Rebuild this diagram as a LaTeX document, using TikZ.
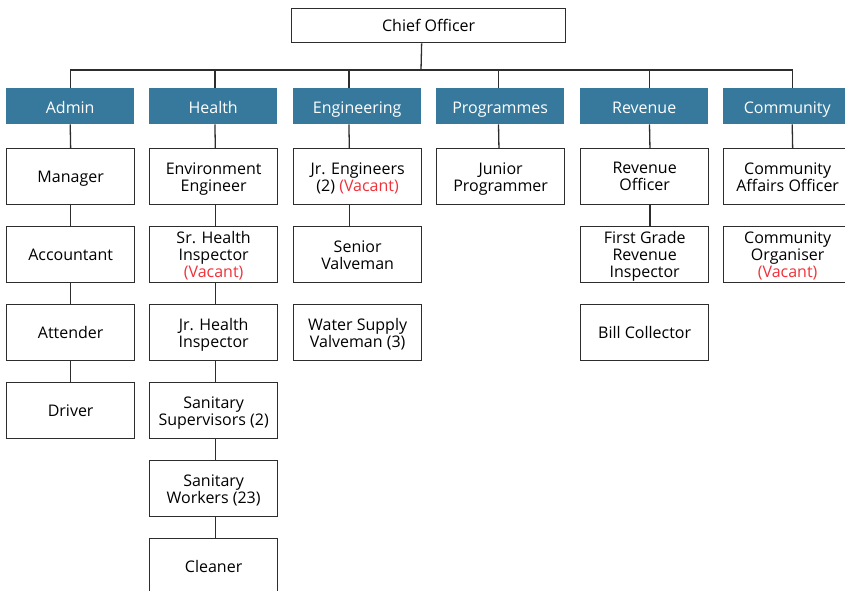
\documentclass[tikz,border=0pt]{standalone}
\usepackage{fontspec}
\setmainfont{Open Sans}
\definecolor{deptc}{RGB}{54,121,156}
\definecolor{vac}{RGB}{240,50,58}
\definecolor{edgec}{RGB}{45,45,45}
\newcommand{\vac}[1]{\textcolor{vac}{#1}}
\begin{document}
\begin{tikzpicture}[x=1pt,y=-1pt,
  box/.style={draw=edgec,line width=1.3pt,fill=white,minimum width=128pt,minimum height=56pt,inner sep=0pt,text depth=0pt,anchor=north west,align=center,font=\fontsize{16}{17}\selectfont},
  deptbox/.style={fill=deptc,text=white,minimum width=128pt,minimum height=36pt,inner sep=0pt,text height=14pt,text depth=0pt,anchor=north west,font=\fontsize{16}{17}\selectfont},
  conn/.style={draw=edgec,line width=1.3pt}]
\useasboundingbox (0,0) rectangle (845,590);
\clip (0,0) rectangle (845,590);
% top
\node[box,minimum width=274pt,minimum height=34pt] (chief) at (291,8) {Chief Officer};
\coordinate (bus) at (421,70);
% departments
\node[deptbox] (admin) at (6,88) {Admin};
\node[deptbox] (health) at (149,88) {Health};
\node[deptbox] (eng) at (293,88) {Engineering};
\node[deptbox] (prog) at (436,88) {Programmes};
\node[deptbox] (rev) at (580,88) {Revenue};
\node[deptbox] (comm) at (723,88) {Community};
% admin column
\node[box] (a1) at (6,148) {Manager};
\node[box] (a2) at (6,226) {Accountant};
\node[box] (a3) at (6,304) {Attender};
\node[box] (a4) at (6,382) {Driver};
% health column
\node[box] (h1) at (149,148) {Environment\\Engineer};
\node[box] (h2) at (149,226) {Sr. Health\\Inspector\\\vac{(Vacant)}};
\node[box] (h3) at (149,304) {Jr. Health\\Inspector};
\node[box] (h4) at (149,382) {Sanitary\\Supervisors (2)};
\node[box] (h5) at (149,460) {Sanitary\\Workers (23)};
\node[box] (h6) at (149,538) {Cleaner};
% engineering column
\node[box] (e1) at (293,148) {Jr. Engineers\\(2) \vac{(Vacant)}};
\node[box] (e2) at (293,226) {Senior\\Valveman};
\node[box] (e3) at (293,304) {Water Supply\\Valveman (3)};
% programmes
\node[box] (p1) at (436,148) {Junior\\Programmer};
% revenue
\node[box] (r1) at (580,148) {Revenue\\Officer};
\node[box] (r2) at (580,226) {First Grade\\Revenue\\Inspector};
\node[box] (r3) at (580,304) {Bill Collector};
% community
\node[box] (c1) at (723,148) {Community\\Affairs Officer};
\node[box] (c2) at (723,226) {Community\\Organiser\\\vac{(Vacant)}};
% connectors
\draw[conn] ([xshift=-7pt]chief.south) -- (bus);
\draw[conn] (admin.north) |- (bus);
\draw[conn] ([xshift=1.7pt]health.north) |- (bus);
\draw[conn] ([xshift=-8.3pt]eng.north) |- (bus);
\draw[conn] ([xshift=-1.7pt]prog.north) |- (bus);
\draw[conn] ([xshift=5.3pt]rev.north) |- (bus);
\draw[conn] ([xshift=5pt]comm.north) |- (bus);
\draw[conn] (admin.south) -- (a1.north);
\draw[conn] (a1.south) -- (a2.north);
\draw[conn] (a2.south) -- (a3.north);
\draw[conn] (a3.south) -- (a4.north);
\draw[conn] ([xshift=1.7pt]health.south) -- ([xshift=1.7pt]h1.north);
\draw[conn] ([xshift=1.7pt]h1.south) -- ([xshift=1.7pt]h2.north);
\draw[conn] ([xshift=1.7pt]h2.south) -- ([xshift=1.7pt]h3.north);
\draw[conn] ([xshift=1.7pt]h3.south) -- ([xshift=1.7pt]h4.north);
\draw[conn] ([xshift=1.7pt]h4.south) -- ([xshift=1.7pt]h5.north);
\draw[conn] ([xshift=1.7pt]h5.south) -- ([xshift=1.7pt]h6.north);
\draw[conn] ([xshift=-8.3pt]eng.south) -- ([xshift=-8.3pt]e1.north);
\draw[conn] ([xshift=-8.3pt]e1.south) -- ([xshift=-8.3pt]e2.north);
\draw[conn] ([xshift=-1.7pt]prog.south) -- ([xshift=-1.7pt]p1.north);
\draw[conn] ([xshift=5.3pt]rev.south) -- ([xshift=5.3pt]r1.north);
\draw[conn] ([xshift=5.3pt]r1.south) -- ([xshift=5.3pt]r2.north);
\draw[conn] ([xshift=5pt]comm.south) -- ([xshift=5pt]c1.north);
\end{tikzpicture}
\end{document}
